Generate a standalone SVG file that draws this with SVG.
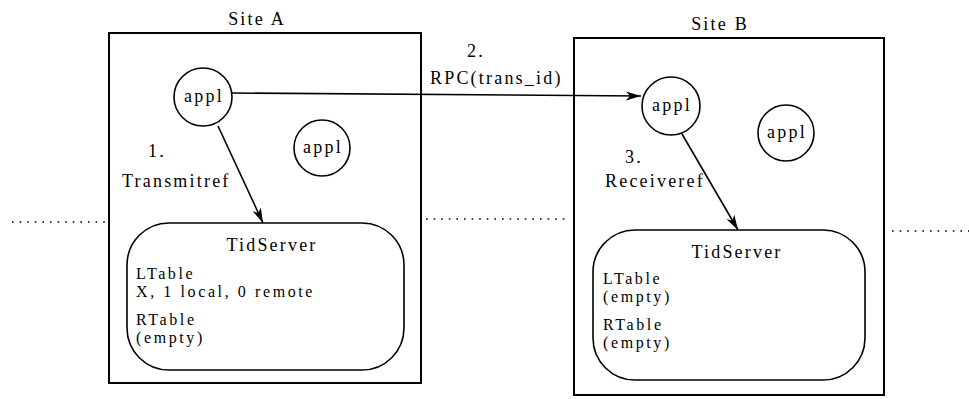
<svg xmlns="http://www.w3.org/2000/svg" width="969" height="399" viewBox="0 0 969 399" font-family="'Liberation Serif', 'DejaVu Serif', serif">
<style>
text{font-family:'Liberation Serif','DejaVu Serif',serif;font-size:18px;letter-spacing:2.2px;fill:#000}
text.tb{font-size:16px;letter-spacing:2.6px}
.box{fill:none;stroke:#000;stroke-width:2}
.node{fill:#fff;stroke:#000;stroke-width:1.6}
.conn{fill:none;stroke:#000;stroke-width:1.6}
.dot{fill:none;stroke:#000;stroke-width:1.6;stroke-dasharray:1.6 6}
.mid{text-anchor:middle}
</style>
<defs>
<marker id="ah" markerWidth="16" markerHeight="10" refX="15" refY="5" orient="auto" markerUnits="userSpaceOnUse">
<path d="M0,0.5 L15,5 L0,9.5 L4,5 z" fill="#000"/>
</marker>
</defs>
<g id="dotted">
<line class="dot" x1="12" y1="222" x2="106" y2="222"/>
<line class="dot" x1="426" y1="219" x2="568" y2="219"/>
<line class="dot" x1="892" y1="231" x2="969" y2="231"/>
</g>
<g id="siteA">
<rect class="box" x="109" y="33" width="312" height="350"/>
<text class="mid" x="257" y="25">Site A</text>
</g>
<g id="siteB">
<rect class="box" x="574" y="38" width="310" height="357"/>
<text class="mid" x="720" y="30">Site B</text>
</g>
<g id="applA1">
<circle class="node" cx="203" cy="97" r="29"/>
<text class="mid" x="204" y="102">appl</text>
</g>
<g id="applA2">
<circle class="node" cx="322" cy="148" r="28"/>
<text class="mid" x="323" y="153">appl</text>
</g>
<g id="applB1">
<circle class="node" cx="671" cy="106" r="29"/>
<text class="mid" x="672" y="111">appl</text>
</g>
<g id="applB2">
<circle class="node" cx="786" cy="133" r="28"/>
<text class="mid" x="787" y="138">appl</text>
</g>
<g id="tidA">
<rect class="node" x="127" y="223" width="277" height="147" rx="42" ry="42"/>
<text class="mid" x="272" y="251">TidServer</text>
<text class="tb" x="136" y="279">LTable</text>
<text class="tb" x="136" y="297">X, 1 local, 0 remote</text>
<text class="tb" x="136" y="325">RTable</text>
<text class="tb" x="136" y="343">(empty)</text>
</g>
<g id="tidB">
<rect class="node" x="593" y="230" width="272" height="150" rx="42" ry="42"/>
<text class="mid" x="737" y="258">TidServer</text>
<text class="tb" x="603" y="284">LTable</text>
<text class="tb" x="603" y="302">(empty)</text>
<text class="tb" x="603" y="330">RTable</text>
<text class="tb" x="603" y="348">(empty)</text>
</g>
<g id="connectors">
<line class="conn" x1="218" y1="126" x2="263" y2="223" marker-end="url(#ah)"/>
<line class="conn" x1="232" y1="93" x2="641" y2="96" marker-end="url(#ah)"/>
<line class="conn" x1="682" y1="134" x2="738" y2="230" marker-end="url(#ah)"/>
<text x="148" y="157">1.</text>
<text x="122" y="187">Transmitref</text>
<text x="467" y="57">2.</text>
<text x="430" y="84">RPC(trans_id)</text>
<text x="625" y="163">3.</text>
<text x="605" y="187">Receiveref</text>
</g>
</svg>
